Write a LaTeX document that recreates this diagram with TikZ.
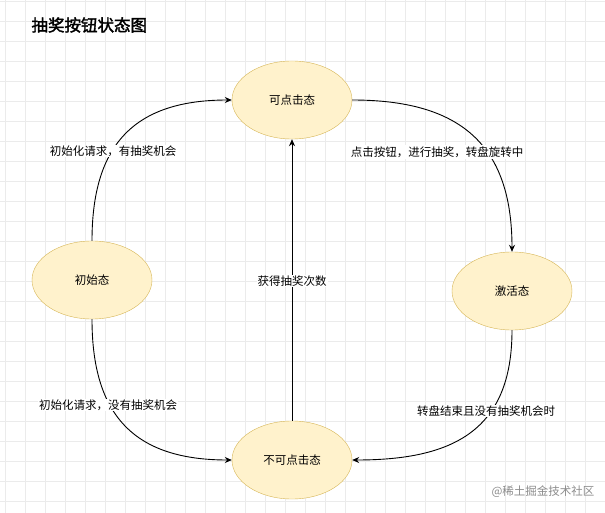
\documentclass[tikz,border=0pt]{standalone}
\usepackage{fontspec}
\setmainfont{Noto Sans CJK SC}[AutoFakeBold=2]
\usetikzlibrary{arrows.meta,shapes.geometric}
\begin{document}
\begin{tikzpicture}[x=1pt,y=-1pt,
  st/.style={ellipse,draw=yellowbd,fill=yellowbg,minimum width=120,minimum height=78,inner sep=0,font=\fontsize{11.5}{13}\selectfont},
  lab/.style={fill=white,inner sep=1,font=\fontsize{11.5}{13}\selectfont},
  ar/.style={-{Stealth[length=7,width=6]},line width=0.9pt,black}]
\definecolor{yellowbg}{HTML}{FFF2CC}
\definecolor{yellowbd}{HTML}{D6B656}
\useasboundingbox (0,0) rectangle (605,513);
\fill[white] (0,0) rectangle (605,513);
\foreach \i in {0,...,30} {\draw[black!8] (\i*20+5,0) -- (\i*20+5,513);}
\foreach \i in {0,...,26} {\draw[black!8] (0,\i*20+1) -- (605,\i*20+1);}
\node[anchor=west,font=\fontsize{16.5}{18}\selectfont\bfseries] (title) at (28,25) {抽奖按钮状态图};
\node[st] (k) at (292,100) {可点击态};
\node[st] (j) at (512,291) {激活态};
\node[st] (c) at (92,280) {初始态};
\node[st] (n) at (292,460) {不可点击态};
\draw[ar] (c.north) to[out=90,in=180,looseness=1.25] (k.west);
\draw[ar] (k.east) to[out=0,in=90,looseness=1.25] (j.north);
\draw[ar] (j.south) to[out=-90,in=0,looseness=1.25] (n.east);
\draw[ar] (c.south) to[out=-90,in=180,looseness=1.25] (n.west);
\draw[ar] (n.north) -- (k.south);
\node[lab] (l1) at (113,151) {初始化请求，有抽奖机会};
\node[lab] (l2) at (437,152) {点击按钮，进行抽奖，转盘旋转中};
\node[lab] (l3) at (486,411) {转盘结束且没有抽奖机会时};
\node[lab] (l4) at (108,405) {初始化请求，没有抽奖机会};
\node[lab] (l5) at (292,281) {获得抽奖次数};
\node[anchor=east,text=black!45,font=\fontsize{11.5}{13}\selectfont] (wm) at (598,492) {@稀土掘金技术社区};
\end{tikzpicture}
\end{document}
